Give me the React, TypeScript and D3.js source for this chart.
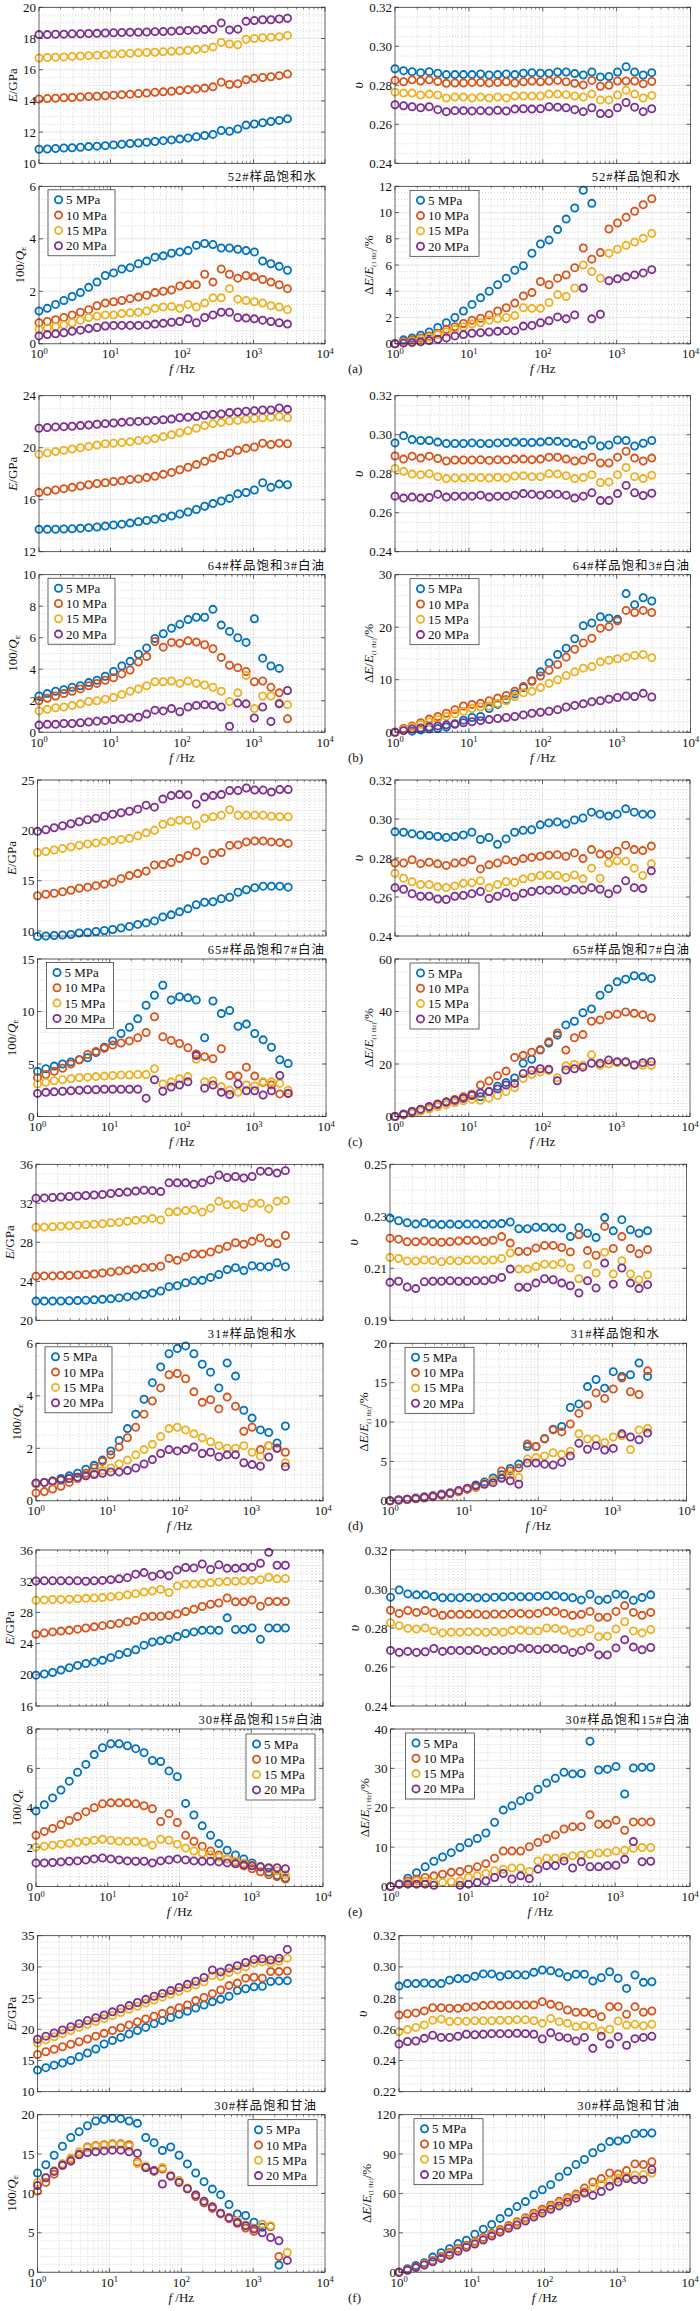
import React from 'react';
import * as d3 from 'd3';

type S = (number | null)[];
const N = null;

const FREQ = [1, 1.306, 1.705, 2.226, 2.906, 3.795, 4.955, 6.47, 8.448, 11.03, 14.4, 18.81, 24.56, 32.06, 41.87, 54.67, 71.38, 93.2, 121.7, 158.9, 207.5, 270.9, 353.7, 461.9, 603.1, 787.5, 1028, 1343, 1753, 2289, 2989];
const LEGEND = ['5 MPa', '10 MPa', '15 MPa', '20 MPa'];
const COLORS = ['#0072BD', '#D95319', '#EDB120', '#7E2F8E'];
const X_TICKS = [1, 10, 100, 1000, 10000];
const CAPTIONS = ['52#样品饱和水', '64#样品饱和3#白油', '65#样品饱和7#白油', '31#样品饱和水', '30#样品饱和15#白油', '30#样品饱和甘油'];
const TAGS = ['(a)', '(b)', '(c)', '(d)', '(e)', '(f)'];

// ---------- (a) ----------
const a_E5: S = [10.9, 10.92, 10.95, 10.98, 11.0, 11.03, 11.07, 11.1, 11.13, 11.18, 11.22, 11.27, 11.3, 11.35, 11.4, 11.45, 11.5, 11.55, 11.62, 11.7, 11.78, 11.85, 12.1, 12.05, 12.2, 12.45, 12.52, 12.6, 12.68, 12.75, 12.85];
const a_E10: S = [14.12, 14.15, 14.17, 14.2, 14.22, 14.25, 14.28, 14.3, 14.33, 14.37, 14.4, 14.43, 14.47, 14.5, 14.55, 14.58, 14.62, 14.67, 14.72, 14.77, 14.82, 14.9, 15.2, 15.05, 15.1, 15.35, 15.45, 15.5, 15.55, 15.62, 15.72];
const a_E15: S = [16.75, 16.78, 16.8, 16.82, 16.85, 16.88, 16.9, 16.93, 16.96, 17.0, 17.02, 17.05, 17.08, 17.1, 17.12, 17.15, 17.18, 17.2, 17.25, 17.3, 17.35, 17.45, 17.75, 17.65, 17.6, 17.95, 18.0, 18.05, 18.08, 18.12, 18.2];
const a_E20: S = [18.25, 18.25, 18.27, 18.28, 18.3, 18.3, 18.32, 18.33, 18.35, 18.37, 18.38, 18.4, 18.4, 18.42, 18.44, 18.45, 18.47, 18.5, 18.52, 18.55, 18.57, 18.6, 19.0, 18.55, 18.6, 19.1, 19.15, 19.2, 19.2, 19.25, 19.3];
const a_Q5: S = [1.25, 1.35, 1.5, 1.65, 1.8, 1.95, 2.15, 2.35, 2.6, 2.7, 2.85, 2.9, 3.05, 3.15, 3.3, 3.35, 3.45, 3.5, 3.55, 3.75, 3.82, 3.78, 3.65, 3.65, 3.6, 3.55, 3.5, 3.15, 3.05, 2.95, 2.8];
const a_Q10: S = [0.8, 0.85, 0.92, 1.0, 1.1, 1.2, 1.3, 1.45, 1.55, 1.6, 1.65, 1.72, 1.78, 1.85, 1.95, 2.0, 2.05, 2.2, 2.25, 2.25, 2.65, 2.35, 2.85, 2.65, 2.5, 2.6, 2.55, 2.45, 2.35, 2.25, 2.1];
const a_Q15: S = [0.55, 0.6, 0.65, 0.72, 0.8, 0.9, 1.0, 1.05, 1.1, 1.1, 1.15, 1.18, 1.2, 1.25, 1.35, 1.4, 1.42, 1.35, 1.5, 1.4, 1.55, 1.75, 1.75, 2.1, 1.7, 1.65, 1.6, 1.55, 1.45, 1.4, 1.3];
const a_Q20: S = [0.3, 0.35, 0.38, 0.42, 0.48, 0.52, 0.58, 0.62, 0.68, 0.7, 0.7, 0.7, 0.7, 0.72, 0.75, 0.78, 0.82, 0.85, 0.95, 0.8, 1.0, 1.1, 1.2, 1.2, 1.0, 0.98, 0.95, 0.9, 0.85, 0.8, 0.75];
const a_v5: S = [0.2885, 0.2875, 0.287, 0.2865, 0.287, 0.2862, 0.2855, 0.2855, 0.2855, 0.2855, 0.2858, 0.2853, 0.2855, 0.2858, 0.2855, 0.2862, 0.2865, 0.2862, 0.2862, 0.2868, 0.2868, 0.286, 0.2853, 0.2868, 0.2843, 0.2845, 0.2868, 0.2895, 0.2868, 0.2853, 0.2865];
const a_v10: S = [0.2825, 0.2818, 0.2828, 0.2822, 0.2828, 0.282, 0.281, 0.2812, 0.2812, 0.2815, 0.2815, 0.2812, 0.2815, 0.2818, 0.2812, 0.2818, 0.2822, 0.2818, 0.2822, 0.2825, 0.2818, 0.281, 0.2802, 0.2825, 0.2795, 0.28, 0.2822, 0.2822, 0.2822, 0.2808, 0.282];
const a_v15: S = [0.2765, 0.276, 0.276, 0.275, 0.2755, 0.275, 0.2735, 0.274, 0.274, 0.2735, 0.274, 0.2735, 0.274, 0.2735, 0.2745, 0.2745, 0.2745, 0.2745, 0.2755, 0.2755, 0.2752, 0.2745, 0.274, 0.2755, 0.2725, 0.2725, 0.275, 0.2775, 0.2755, 0.2735, 0.2748];
const a_v20: S = [0.27, 0.2695, 0.269, 0.2685, 0.269, 0.2675, 0.2665, 0.267, 0.267, 0.2668, 0.267, 0.2668, 0.2672, 0.2668, 0.2678, 0.268, 0.2678, 0.268, 0.269, 0.2688, 0.2685, 0.2675, 0.2665, 0.2685, 0.2655, 0.2655, 0.2685, 0.2712, 0.2688, 0.2665, 0.268];
const a_dE5: S = [0, 0.3, 0.45, 0.65, 0.9, 1.25, 1.6, 2.0, 2.5, 3.0, 3.5, 4.0, 4.5, 5.0, 5.6, 5.95, 6.9, 7.6, 7.9, 8.7, 9.5, 10.35, 11.7, 10.7, N, N, N, N, N, N, N];
const a_dE10: S = [0, 0.15, 0.3, 0.45, 0.6, 0.8, 1.1, 1.3, 1.55, 1.8, 1.95, 2.2, 2.5, 2.75, 3.1, 3.65, 3.9, 4.75, 4.5, 5.0, 5.25, 5.8, 7.3, 6.45, 6.95, 8.75, 9.2, 9.65, 10.1, 10.6, 11.05];
const a_dE15: S = [0, 0.1, 0.2, 0.35, 0.5, 0.7, 0.9, 1.1, 1.3, 1.5, 1.6, 1.8, 1.9, 2.0, 2.15, 2.75, 2.7, 2.7, 3.15, 3.75, 3.6, 4.25, 6.0, 5.5, 5.0, 6.9, 7.2, 7.5, 7.75, 8.05, 8.4];
const a_dE20: S = [0, 0.05, 0.1, 0.15, 0.25, 0.35, 0.45, 0.6, 0.7, 0.8, 0.85, 0.9, 0.95, 1.0, 1.0, 1.35, 1.4, 1.6, 1.75, 2.05, 1.9, 2.2, 4.25, 1.9, 2.25, 4.8, 4.95, 5.1, 5.25, 5.4, 5.65];

// ---------- (b) ----------
const b_E5: S = [13.72, 13.72, 13.73, 13.75, 13.76, 13.8, 13.85, 13.9, 13.97, 14.05, 14.12, 14.2, 14.3, 14.4, 14.5, 14.62, 14.75, 14.9, 15.05, 15.25, 15.5, 15.7, 15.9, 16.1, 16.45, 16.55, 16.75, 17.3, 16.95, 17.2, 17.15];
const b_E10: S = [16.55, 16.65, 16.75, 16.85, 16.95, 17.05, 17.15, 17.25, 17.3, 17.4, 17.45, 17.55, 17.6, 17.7, 17.8, 17.95, 18.1, 18.3, 18.5, 18.7, 18.95, 19.2, 19.4, 19.6, 19.8, 19.95, 20.05, 20.35, 20.25, 20.35, 20.3];
const b_E15: S = [19.5, 19.6, 19.7, 19.8, 19.9, 20.0, 20.1, 20.2, 20.3, 20.35, 20.4, 20.45, 20.55, 20.6, 20.7, 20.85, 21.0, 21.15, 21.3, 21.5, 21.7, 21.85, 21.95, 22.05, 22.1, 22.2, 22.25, 22.3, 22.35, 22.4, 22.3];
const b_E20: S = [21.5, 21.55, 21.6, 21.62, 21.65, 21.7, 21.75, 21.8, 21.85, 21.9, 21.95, 22.0, 22.02, 22.05, 22.1, 22.15, 22.2, 22.3, 22.35, 22.4, 22.5, 22.55, 22.6, 22.7, 22.75, 22.8, 22.85, 22.9, 22.9, 23.05, 22.95];
const b_Q5: S = [2.3, 2.45, 2.6, 2.7, 2.85, 2.95, 3.15, 3.3, 3.55, 3.85, 4.2, 4.5, 4.95, 5.35, 5.95, 6.25, 6.6, 6.85, 7.15, 7.3, 7.3, 7.8, 6.8, 6.4, 6.0, 5.7, 7.2, 4.7, 4.2, 4.05, N];
const b_Q10: S = [2.0, 2.15, 2.3, 2.45, 2.6, 2.75, 2.95, 3.1, 3.3, 3.45, 3.7, 3.95, 4.45, 4.8, 5.76, 5.4, 5.7, 5.65, 5.8, 5.72, 5.55, 5.3, 4.75, 4.25, 4.1, 3.85, 3.2, 3.25, 2.85, 2.5, 0.85];
const b_Q15: S = [1.35, 1.45, 1.55, 1.6, 1.7, 1.8, 1.95, 2.0, 2.1, 2.2, 2.4, 2.6, 2.75, 2.95, 3.2, 3.2, 3.25, 3.1, 3.25, 3.1, 3.0, 2.85, 2.6, 1.95, 2.5, 3.6, 1.5, 2.3, 2.3, 1.85, 1.75];
const b_Q20: S = [0.45, 0.5, 0.5, 0.55, 0.55, 0.6, 0.65, 0.7, 0.75, 0.8, 0.85, 0.9, 0.95, 1.15, 1.4, 1.35, 1.5, 1.3, 1.6, 1.7, 1.75, 1.7, 1.6, 0.38, 1.85, 1.8, 0.9, 1.6, 0.68, 1.8, 2.65];
const b_v5: S = [0.2958, 0.2995, 0.2975, 0.297, 0.297, 0.2962, 0.2955, 0.2955, 0.2955, 0.2958, 0.2955, 0.2955, 0.2958, 0.296, 0.2962, 0.296, 0.296, 0.2962, 0.2966, 0.2966, 0.296, 0.2955, 0.2944, 0.2973, 0.2942, 0.2947, 0.2973, 0.297, 0.2942, 0.2956, 0.297];
const b_v10: S = [0.2891, 0.2875, 0.289, 0.288, 0.289, 0.2878, 0.2865, 0.287, 0.287, 0.287, 0.2872, 0.2868, 0.2872, 0.287, 0.2875, 0.2875, 0.2872, 0.2875, 0.2885, 0.2885, 0.2875, 0.2865, 0.287, 0.2885, 0.2855, 0.2855, 0.2885, 0.2915, 0.288, 0.2865, 0.288];
const b_v15: S = [0.2827, 0.2812, 0.2798, 0.2795, 0.28, 0.2785, 0.2775, 0.2778, 0.2778, 0.278, 0.278, 0.2778, 0.2782, 0.2778, 0.2788, 0.279, 0.2785, 0.2785, 0.28, 0.2798, 0.279, 0.2775, 0.278, 0.2795, 0.2755, 0.2758, 0.2795, 0.2832, 0.2785, 0.2775, 0.2792];
const b_v20: S = [0.2685, 0.2675, 0.268, 0.2675, 0.2678, 0.2695, 0.268, 0.2685, 0.2685, 0.2685, 0.269, 0.268, 0.2685, 0.2685, 0.269, 0.2698, 0.2695, 0.269, 0.2695, 0.2695, 0.269, 0.2675, 0.2685, 0.2702, 0.2662, 0.2662, 0.2698, 0.274, 0.2702, 0.2688, 0.27];
const b_dE5: S = [0, 0.4, 0.2, 0.4, 0.6, 0.7, 1.0, 1.5, 2.3, 2.8, 3.0, 4.5, 5.3, 6.2, 7.3, 8.5, 9.8, 11.5, 13.2, 14.8, 16.0, 17.8, 20.3, 20.8, 22.0, 21.7, 21.5, 26.4, 24.3, 25.6, 25.0];
const b_dE10: S = [0, 0.7, 1.2, 1.8, 2.5, 3.0, 3.6, 4.3, 5.0, 5.3, 5.5, 6.0, 6.5, 7.0, 7.8, 8.7, 9.7, 10.7, 11.8, 12.9, 14.3, 15.8, 17.0, 17.9, 19.8, 20.1, 21.2, 23.2, 22.8, 23.2, 22.8];
const b_dE15: S = [0, 0.5, 1.0, 1.5, 2.0, 2.5, 3.0, 3.5, 4.0, 4.5, 4.8, 5.0, 5.5, 6.0, 6.8, 7.5, 7.8, 8.5, 9.3, 10.0, 10.8, 11.5, 12.2, 12.5, 13.4, 13.7, 14.0, 14.3, 14.6, 14.8, 14.2];
const b_dE20: S = [0, 0.3, 0.6, 0.8, 1.0, 1.2, 1.4, 1.6, 1.8, 2.0, 2.2, 2.4, 2.6, 2.8, 3.0, 3.3, 3.6, 3.8, 4.0, 4.3, 4.8, 5.1, 5.4, 5.8, 6.0, 6.3, 6.6, 6.9, 6.8, 7.4, 6.7];

// ---------- (c) ----------
const c_E5: S = [9.45, 9.5, 9.55, 9.6, 9.65, 9.8, 9.85, 9.95, 10.05, 10.15, 10.3, 10.45, 10.65, 10.8, 11.0, 11.4, 11.6, 11.9, 12.2, 12.6, 12.85, 12.9, 13.2, 13.35, 13.85, 14.1, 14.3, 14.45, 14.45, 14.45, 14.35];
const c_E10: S = [13.5, 13.65, 13.75, 13.9, 14.05, 14.25, 14.35, 14.5, 14.65, 14.85, 15.2, 15.5, 15.7, 15.95, 16.55, 16.6, 16.8, 17.2, 17.5, 17.85, 17.0, 17.7, 17.8, 18.5, 18.55, 18.85, 18.95, 18.95, 18.85, 18.8, 18.7];
const c_E15: S = [17.8, 17.9, 18.05, 18.2, 18.35, 18.5, 18.65, 18.75, 18.9, 19.0, 19.1, 19.2, 19.45, 19.75, 20.0, 20.6, 20.85, 21.0, 21.0, 20.5, 21.2, 21.35, 21.5, 22.05, 21.5, 21.5, 21.5, 21.5, 21.4, 21.35, 21.35];
const c_E20: S = [19.9, 20.05, 20.25, 20.45, 20.65, 20.85, 21.05, 21.2, 21.4, 21.6, 21.75, 21.9, 22.1, 22.5, 22.3, 23.1, 23.45, 23.55, 23.5, 22.6, 23.3, 23.45, 23.55, 23.95, 23.95, 24.2, 24.0, 24.0, 23.8, 24.05, 24.05];
const c_Q5: S = [4.3, 4.55, 4.8, 5.0, 5.2, 5.4, 5.6, 6.1, 6.6, 7.2, 7.9, 8.5, 9.3, 10.6, 11.55, 12.5, 11.1, 11.4, 11.3, 11.1, 7.5, 11.0, 9.8, 10.1, 8.6, 8.8, 7.9, 7.3, 6.6, 5.4, 5.05];
const c_Q10: S = [3.7, 4.0, 4.3, 4.6, 5.0, 5.4, 5.9, 6.2, 6.5, 6.8, 7.0, 7.2, 7.5, 8.0, 9.5, 7.6, 7.25, 6.95, 6.55, 5.95, 5.7, 5.5, 6.45, 3.9, 3.85, 4.7, 3.85, 3.25, 3.0, 2.15, 2.2];
const c_Q15: S = [3.1, 3.25, 3.4, 3.5, 3.6, 3.7, 3.75, 3.8, 3.85, 3.9, 3.95, 3.95, 4.0, 4.0, 4.55, 3.1, 3.3, 3.6, 3.8, 5.45, 3.3, 3.4, 2.85, 2.5, 2.3, 3.0, 2.9, 3.3, 3.3, 3.15, 2.5];
const c_Q20: S = [2.2, 2.3, 2.35, 2.4, 2.45, 2.5, 2.55, 2.55, 2.6, 2.6, 2.6, 2.6, 2.6, 1.75, 3.5, 2.4, 2.8, 3.0, 3.3, 5.8, 2.7, 3.0, 2.3, 2.1, 3.1, 2.45, 2.45, 2.05, 2.45, 3.9, 2.2];
const c_v5: S = [0.2934, 0.2932, 0.2925, 0.2918, 0.2915, 0.291, 0.2905, 0.291, 0.2918, 0.2932, 0.2895, 0.2905, 0.287, 0.2898, 0.2932, 0.2942, 0.2945, 0.297, 0.298, 0.2985, 0.2975, 0.2995, 0.3005, 0.3035, 0.3025, 0.3015, 0.3025, 0.3052, 0.3035, 0.3025, 0.3025];
const c_v10: S = [0.2774, 0.2774, 0.2791, 0.2771, 0.2778, 0.277, 0.2762, 0.2774, 0.2779, 0.2791, 0.2744, 0.2765, 0.2774, 0.2791, 0.2783, 0.2797, 0.2803, 0.2809, 0.2814, 0.2817, 0.2809, 0.2826, 0.2797, 0.2843, 0.282, 0.2817, 0.2835, 0.2866, 0.2843, 0.2838, 0.2861];
const c_v15: S = [0.2722, 0.2696, 0.2678, 0.2664, 0.2664, 0.2652, 0.2649, 0.2657, 0.267, 0.2673, 0.2683, 0.2647, 0.2664, 0.2678, 0.2675, 0.2693, 0.2701, 0.271, 0.2713, 0.271, 0.27, 0.2713, 0.2693, 0.2748, 0.2696, 0.2774, 0.2786, 0.2783, 0.2748, 0.271, 0.277];
const c_v20: S = [0.2648, 0.264, 0.2617, 0.2604, 0.2604, 0.259, 0.2587, 0.2604, 0.2608, 0.2617, 0.2628, 0.2592, 0.2604, 0.2622, 0.2601, 0.2619, 0.2628, 0.2635, 0.2635, 0.264, 0.2631, 0.264, 0.2636, 0.2648, 0.264, 0.2617, 0.264, 0.2683, 0.2648, 0.2643, 0.2734];
const c_dE5: S = [0, 1, 2, 2.5, 3.5, 4.5, 5.5, 6.3, 7.0, 8.3, 7.5, 9.5, 11.5, 13.0, 14.7, 20.3, 21.8, 25.3, 28.0, 31.0, 34.9, 36.3, 39.5, 41.0, 46.2, 48.7, 51.3, 52.3, 53.6, 53.2, 52.6];
const c_dE10: S = [0, 0.8, 1.8, 2.5, 3.5, 4.5, 5.5, 6.5, 7.5, 8.5, 12.0, 13.5, 15.5, 17.3, 22.5, 23.3, 24.5, 25.5, 28.5, 31.8, 25.3, 30.0, 31.2, 36.3, 36.8, 38.5, 39.0, 39.8, 39.3, 38.8, 37.6];
const c_dE15: S = [0, 0.5, 1.2, 2.0, 2.8, 3.7, 4.5, 5.3, 6.0, 6.5, 6.2, 7.0, 8.0, 9.5, 11.0, 14.5, 16.0, 17.0, 17.5, 14.8, 19.3, 19.8, 19.5, 23.5, 19.5, 20.0, 20.5, 20.5, 19.5, 19.5, 19.5];
const c_dE20: S = [0, 0.8, 1.8, 2.8, 3.8, 4.8, 5.5, 6.2, 7.0, 8.0, 9.0, 9.5, 10.5, 12.0, 12.6, 16.4, 17.6, 18.2, 18.0, 13.6, 17.7, 18.2, 18.8, 20.3, 20.3, 21.5, 20.9, 20.9, 19.6, 20.5, 20.9];

// ---------- (d) ----------
const d_E5: S = [21.97, 21.97, 21.97, 21.98, 22.0, 22.02, 22.05, 22.1, 22.15, 22.2, 22.3, 22.4, 22.5, 22.65, 22.8, 23.0, 23.45, 23.55, 23.85, 24.05, 24.1, 24.4, 24.7, 25.2, 25.4, 25.1, 25.6, 25.5, 25.5, 25.9, 25.5];
const d_E10: S = [24.53, 24.55, 24.55, 24.6, 24.6, 24.65, 24.7, 24.75, 24.85, 24.95, 25.05, 25.15, 25.25, 25.4, 25.45, 25.55, 26.35, 26.15, 26.5, 26.8, 26.8, 27.0, 27.3, 27.6, 27.95, 27.8, 28.1, 28.45, 27.95, 27.85, 28.7];
const d_E15: S = [29.54, 29.55, 29.6, 29.65, 29.7, 29.75, 29.8, 29.85, 29.9, 30.0, 30.05, 30.15, 30.25, 30.35, 30.45, 30.3, 31.1, 31.15, 31.25, 31.35, 31.1, 31.5, 32.2, 31.85, 31.85, 31.6, 32.0, 32.0, 31.45, 32.2, 32.3];
const d_E20: S = [32.53, 32.55, 32.6, 32.65, 32.7, 32.75, 32.8, 32.85, 32.9, 33.0, 33.1, 33.15, 33.25, 33.35, 33.3, 33.2, 34.1, 34.1, 34.1, 33.95, 34.1, 34.4, 34.9, 34.65, 34.75, 34.6, 34.75, 35.3, 35.25, 35.1, 35.35];
const d_Q5: S = [0.65, 0.7, 0.75, 0.85, 0.95, 1.05, 1.2, 1.35, 1.55, 1.9, 2.3, 2.75, 3.3, 3.87, 4.5, 5.1, 5.6, 5.8, 5.9, 5.6, 5.2, 4.9, 4.3, 5.25, 4.75, 3.45, 3.15, 2.7, 2.6, 2.2, 2.85];
const d_Q10: S = [0.3, 0.35, 0.45, 0.55, 0.7, 0.85, 1.05, 1.25, 1.5, 1.75, 2.05, 2.4, 2.8, 3.3, 3.8, 4.3, 4.8, 4.85, 4.65, 4.15, 3.75, 3.85, 3.5, 3.95, 3.6, 2.65, 2.8, 1.95, 2.1, 2.0, 1.85];
const d_Q15: S = [0.65, 0.7, 0.72, 0.78, 0.85, 0.9, 0.95, 1.05, 1.15, 1.25, 1.4, 1.55, 1.75, 1.95, 2.15, 2.45, 2.75, 2.8, 2.7, 2.55, 2.4, 2.25, 2.1, 2.0, 2.0, 2.1, 1.85, 1.7, 2.1, 2.0, 1.45];
const d_Q20: S = [0.68, 0.7, 0.75, 0.8, 0.85, 0.9, 0.95, 1.0, 1.05, 1.1, 1.1, 1.15, 1.25, 1.4, 1.57, 1.8, 1.95, 1.9, 1.95, 2.05, 1.8, 1.85, 1.68, 1.75, 1.75, 1.45, 1.38, 1.32, 1.67, 2.0, 1.3];
const d_v5: S = [0.2293, 0.2283, 0.2275, 0.227, 0.2275, 0.227, 0.2268, 0.227, 0.2268, 0.227, 0.227, 0.2268, 0.227, 0.2272, 0.2278, 0.2252, 0.2252, 0.2258, 0.2258, 0.2255, 0.2255, 0.2222, 0.2257, 0.2235, 0.2218, 0.2295, 0.2244, 0.2287, 0.2248, 0.2235, 0.2244];
const d_v10: S = [0.2216, 0.2212, 0.2202, 0.2202, 0.2205, 0.2202, 0.22, 0.2202, 0.2205, 0.2208, 0.2208, 0.2202, 0.2208, 0.2222, 0.2197, 0.2165, 0.2165, 0.2178, 0.2188, 0.2188, 0.218, 0.2163, 0.2229, 0.2168, 0.215, 0.2261, 0.2176, 0.2222, 0.2176, 0.2156, 0.2172];
const d_v15: S = [0.2142, 0.2138, 0.2128, 0.2128, 0.2132, 0.213, 0.2125, 0.213, 0.2128, 0.2132, 0.2132, 0.213, 0.2132, 0.2138, 0.2159, 0.2097, 0.2097, 0.2107, 0.2116, 0.2114, 0.212, 0.2101, 0.206, 0.2114, 0.2082, 0.2162, 0.2078, 0.2129, 0.2078, 0.2056, 0.2075];
const d_v20: S = [0.2046, 0.205, 0.2028, 0.2022, 0.2048, 0.205, 0.205, 0.2052, 0.205, 0.205, 0.2052, 0.2052, 0.2058, 0.2065, 0.2097, 0.2027, 0.2027, 0.2043, 0.206, 0.2056, 0.2043, 0.2033, 0.2005, 0.2052, 0.2024, 0.212, 0.2039, 0.2101, 0.2043, 0.2022, 0.2037];
const d_dE5: S = [0, 0.1, 0.2, 0.35, 0.5, 0.65, 0.85, 1.0, 1.25, 1.55, 2.0, 2.4, 2.9, 3.3, 4.1, 4.66, 6.9, 6.9, 7.9, 9.1, 9.45, 11.85, 12.3, 14.5, 15.4, 14.3, 16.4, 15.8, 16.0, 17.5, 15.8];
const d_dE10: S = [0, 0.1, 0.15, 0.25, 0.35, 0.5, 0.7, 0.9, 1.15, 1.45, 1.7, 2.15, 2.6, 3.8, 3.8, 4.15, 7.2, 6.9, 7.85, 9.0, 8.75, 9.75, 11.1, 12.15, 13.7, 13.0, 14.2, 15.6, 13.85, 13.5, 16.5];
const d_dE15: S = [0, 0.1, 0.2, 0.3, 0.45, 0.6, 0.8, 1.0, 1.25, 1.55, 1.8, 2.2, 2.6, 3.0, 3.3, 2.95, 5.3, 5.5, 5.7, 6.1, 5.9, 6.3, 8.5, 7.85, 7.85, 7.4, 8.1, 8.25, 6.5, 9.0, 9.2];
const d_dE20: S = [0, 0.1, 0.2, 0.3, 0.45, 0.6, 0.8, 1.0, 1.3, 1.6, 1.9, 2.1, 2.3, 2.85, 2.55, 2.1, 4.8, 4.8, 4.65, 4.55, 4.9, 5.7, 7.3, 6.55, 7.0, 6.45, 6.65, 8.5, 8.1, 7.75, 8.6];

// ---------- (e) ----------
const e_E5: S = [19.95, 20.1, 20.3, 20.6, 20.9, 21.2, 21.45, 21.65, 21.85, 22.2, 22.6, 22.85, 23.2, 23.8, 24.2, 24.35, 24.55, 24.9, 25.3, 25.5, 25.7, 25.75, 25.7, 27.3, 25.8, 25.8, 26.0, 24.55, 26.0, 26.0, 26.0];
const e_E10: S = [25.2, 25.35, 25.5, 25.6, 25.7, 25.85, 26.0, 26.15, 26.3, 26.45, 26.6, 26.8, 27.0, 27.45, 27.5, 27.5, 27.6, 27.8, 28.1, 28.4, 28.75, 29.05, 29.2, 29.85, 29.35, 29.35, 29.6, 28.8, 29.4, 29.4, 29.4];
const e_E15: S = [29.55, 29.6, 29.65, 29.65, 29.7, 29.75, 29.8, 29.85, 29.9, 30.0, 30.1, 30.25, 30.4, 30.6, 30.75, 30.95, 30.55, 31.4, 31.6, 31.65, 31.7, 31.8, 31.9, 31.95, 32.0, 32.05, 32.1, 32.2, 32.5, 32.3, 32.35];
const e_E20: S = [32.02, 32.05, 32.05, 32.05, 32.05, 32.05, 32.0, 32.05, 32.1, 32.2, 32.3, 32.45, 32.9, 33.1, 32.65, 32.9, 32.7, 33.45, 33.75, 33.7, 34.2, 33.5, 34.1, 33.65, 33.65, 33.75, 33.8, 34.3, 35.7, 34.05, 34.05];
const e_Q5: S = [3.83, 4.15, 4.5, 4.9, 5.35, 5.8, 6.2, 6.7, 7.05, 7.25, 7.25, 7.15, 7.0, 6.8, 6.4, 6.35, 5.87, 5.58, 4.22, 3.63, 3.08, 2.6, 2.18, 1.84, 1.6, 1.4, 1.2, 1.0, 0.73, 0.56, 0.43];
const e_Q10: S = [2.6, 2.8, 2.95, 3.15, 3.35, 3.55, 3.8, 4.0, 4.2, 4.25, 4.25, 4.25, 4.2, 4.1, 3.95, 3.3, 3.7, 3.25, 2.6, 2.3, 2.05, 1.8, 1.6, 1.4, 1.25, 1.05, 0.9, 0.75, 0.6, 0.5, 0.38];
const e_Q15: S = [2.0, 2.05, 2.1, 2.15, 2.2, 2.25, 2.3, 2.35, 2.4, 2.35, 2.3, 2.3, 2.3, 2.25, 2.1, 2.4, 2.35, 2.15, 1.95, 1.8, 1.7, 1.6, 1.5, 1.4, 1.3, 1.2, 1.1, 1.0, 0.9, 0.8, 0.6];
const e_Q20: S = [1.2, 1.2, 1.22, 1.25, 1.28, 1.3, 1.35, 1.4, 1.45, 1.4, 1.35, 1.3, 1.28, 1.28, 1.2, 1.3, 1.35, 1.4, 1.35, 1.3, 1.28, 1.28, 1.25, 1.2, 1.15, 1.1, 1.05, 1.0, 0.95, 0.95, 0.9];
const e_v5: S = b_v5;
const e_v10: S = b_v10;
const e_v15: S = b_v15;
const e_v20: S = b_v20;
const e_dE5: S = [0, 0.6, 2.1, 3.5, 5.0, 6.4, 7.5, 8.6, 9.9, 11.1, 12.2, 13.6, 16.3, 19.4, 20.5, 21.8, 22.8, 24.7, 26.3, 27.5, 29.0, 28.6, 28.7, 36.9, 29.6, 29.8, 30.5, 23.5, 30.1, 30.3, 30.3];
const e_dE10: S = [0, 0.6, 1.4, 1.9, 2.3, 2.7, 3.1, 3.6, 3.8, 4.4, 5.0, 5.8, 7.2, 9.0, 9.0, 9.0, 10.1, 11.2, 12.2, 13.1, 14.6, 15.2, 15.2, 18.2, 15.8, 15.8, 16.8, 14.3, 16.4, 16.4, 16.4];
const e_dE15: S = [0, 0.6, 1.0, 1.4, 1.3, 1.0, 1.0, 1.2, 1.4, 2.3, 2.7, 3.3, 4.0, 4.4, 4.7, 4.7, 3.8, 6.5, 7.2, 7.2, 7.4, 7.8, 8.0, 8.2, 8.5, 8.6, 9.0, 9.2, 9.7, 9.9, 9.9];
const e_dE20: S = [0, 0.6, 0.6, 0.6, 0.6, 0.3, N, N, 0.3, 0.6, 1.0, 1.4, 2.3, 3.3, 1.9, 2.7, 2.0, 4.4, 5.3, 5.3, 6.5, 4.7, 6.3, 5.0, 5.0, 5.3, 5.4, 6.9, 11.4, 6.3, 6.4];

// ---------- (f) ----------
const f_E5: S = [13.46, 13.85, 14.25, 14.6, 15.0, 15.6, 16.2, 16.85, 17.65, 18.2, 18.7, 19.25, 19.8, 20.3, 20.9, 21.4, 21.9, 22.4, 22.9, 23.4, 23.9, 24.4, 24.8, 25.3, 26.2, 26.5, 26.8, 26.9, 27.65, 27.75, 27.8];
const f_E10: S = [15.96, 16.4, 16.8, 17.2, 17.6, 18.0, 18.45, 18.9, 19.35, 19.8, 20.25, 20.7, 21.2, 21.65, 22.1, 22.55, 23.0, 23.45, 23.9, 24.6, 25.1, 25.7, 26.3, 27.0, 27.4, 28.2, 28.35, 28.2, 29.25, 29.25, 29.35];
const f_E15: S = [17.8, 18.3, 18.8, 19.3, 19.8, 20.3, 20.8, 21.25, 21.7, 22.2, 22.7, 23.2, 23.7, 24.2, 24.7, 25.15, 25.6, 26.1, 26.6, 27.1, 27.6, 28.6, 28.5, 29.1, 29.5, 30.0, 30.6, 30.8, 30.6, 30.9, 31.4];
const f_E20: S = [18.4, 18.9, 19.4, 19.9, 20.4, 20.9, 21.4, 21.85, 22.3, 22.8, 23.3, 23.8, 24.3, 24.8, 25.3, 25.75, 26.2, 26.7, 27.2, 27.7, 28.3, 29.5, 29.2, 29.8, 30.2, 30.7, 31.2, 31.3, 31.1, 31.4, 32.8];
const f_Q5: S = [12.6, 13.65, 14.85, 16.0, 17.1, 17.85, 18.6, 19.2, 19.4, 19.55, 19.5, 19.2, 18.9, 17.1, 16.45, 15.45, 15.9, 14.85, 13.75, 12.6, 11.5, 10.55, 9.85, 8.6, 7.4, 7.2, 6.35, 5.7, 5.8, 0.9, N];
const f_Q10: S = [10.3, 11.4, 12.45, 13.55, 14.3, 15.0, 15.9, 16.1, 16.2, 16.3, 16.3, 16.2, 14.0, 13.3, 12.8, 13.1, 12.2, 11.6, 10.6, 9.6, 8.8, 8.1, 7.4, 6.8, 6.2, 5.6, 5.2, 6.1, 5.8, 2.0, N];
const f_Q15: S = [11.4, 12.0, 12.9, 13.8, 14.5, 15.3, 15.8, 16.0, 16.1, 16.2, 16.2, 16.0, 13.8, 13.5, 12.9, 13.3, 12.3, 11.6, 10.7, 9.8, 9.0, 8.3, 7.5, 6.9, 6.5, 6.0, 5.6, 6.1, 5.9, N, 2.5];
const f_Q20: S = [11.0, 12.0, 12.8, 13.6, 14.1, 14.9, 15.2, 15.3, 15.4, 15.5, 15.5, 15.3, 15.1, 13.3, 12.9, 11.2, 12.2, 11.4, 10.6, 9.8, 9.0, 8.3, 7.5, 6.9, 6.3, 5.9, 5.5, 5.0, 4.4, 4.0, 1.5];
const f_v5: S = [0.2877, 0.2893, 0.2893, 0.2897, 0.2893, 0.2893, 0.2915, 0.2925, 0.2925, 0.294, 0.2955, 0.2955, 0.294, 0.295, 0.295, 0.2948, 0.2965, 0.298, 0.2975, 0.2962, 0.2937, 0.2953, 0.2953, 0.2909, 0.2931, 0.2969, 0.2927, 0.2862, 0.2948, 0.2901, 0.2905];
const f_v10: S = [0.2691, 0.27, 0.2705, 0.2718, 0.2738, 0.2738, 0.2735, 0.2735, 0.2742, 0.2745, 0.2752, 0.2756, 0.2752, 0.2756, 0.2756, 0.2756, 0.2756, 0.2777, 0.276, 0.2749, 0.2724, 0.2709, 0.2709, 0.2702, 0.2681, 0.2745, 0.2745, 0.2696, 0.2745, 0.2709, 0.2717];
const f_v15: S = [0.2585, 0.2598, 0.2612, 0.2628, 0.2658, 0.2665, 0.265, 0.2652, 0.2652, 0.2655, 0.2655, 0.2655, 0.2658, 0.2658, 0.2662, 0.2662, 0.2655, 0.2638, 0.267, 0.2649, 0.2638, 0.2617, 0.2623, 0.2617, 0.2589, 0.26, 0.2653, 0.2627, 0.2632, 0.2623, 0.2632];
const f_v20: S = [0.2505, 0.2522, 0.2525, 0.2542, 0.2562, 0.2548, 0.2548, 0.2555, 0.2568, 0.2565, 0.2568, 0.2572, 0.2572, 0.2572, 0.2575, 0.2572, 0.2568, 0.2538, 0.2578, 0.2552, 0.2545, 0.2525, 0.2548, 0.2478, 0.2555, 0.2505, 0.2553, 0.2498, 0.254, 0.2548, 0.2555];
const f_dE5: S = [0, 2.6, 5.1, 7.2, 11.5, 14.9, 17.9, 21.8, 24.4, 29, 32.8, 36.4, 41, 45.6, 50, 53.8, 59, 62.8, 66.7, 72.6, 76.9, 82, 85.9, 91, 94.9, 99.5, 100, 101.3, 105.5, 105.9, 106];
const f_dE10: S = [0, 2, 4, 6.5, 9, 12, 15, 18, 20.5, 23.5, 26.5, 29.5, 32.5, 35.5, 38.5, 41.5, 45, 48, 51, 54, 57, 59.5, 64.1, 68.7, 71.3, 75.6, 74.9, 77.4, 82.5, 82, 84.1];
const f_dE15: S = [0, 1.5, 3.5, 6, 8.5, 11, 14, 17, 19.5, 22.5, 25.5, 28.5, 31.5, 34.5, 37.5, 40.5, 43.5, 46.5, 49.5, 52.5, 55.5, 58.5, 61.5, 64.5, 67, 69.5, 71.5, 73, 74, 74.5, 75.5];
const f_dE20: S = [0, 1.5, 3.5, 5.5, 8, 10.5, 13, 16, 19, 21.5, 24.5, 27.5, 30.5, 33.5, 36, 39, 42, 45, 48, 50.5, 53.5, 56.4, 60.3, 58.5, 61.5, 65.4, 68.7, 71.3, 70.5, 70.5, 78.2];

// ---------- axis ticks ----------
const E_TICKS = [[10, 12, 14, 16, 18, 20], [12, 16, 20, 24], [10, 15, 20, 25], [20, 24, 28, 32, 36], [16, 20, 24, 28, 32, 36], [10, 15, 20, 25, 30, 35]];
const E_DOMAINS = [[10, 20], [12, 24], [9.5, 25], [20, 36], [16, 36], [10, 35]];
const Q_TICKS = [[0, 2, 4, 6], [0, 2, 4, 6, 8, 10], [0, 5, 10, 15], [0, 2, 4, 6], [0, 2, 4, 6, 8], [0, 5, 10, 15, 20]];
const V_TICKS = [[0.24, 0.26, 0.28, 0.3, 0.32], [0.24, 0.26, 0.28, 0.3, 0.32], [0.24, 0.26, 0.28, 0.3, 0.32], [0.19, 0.21, 0.23, 0.25], [0.24, 0.26, 0.28, 0.3, 0.32], [0.22, 0.24, 0.26, 0.28, 0.3, 0.32]];
const DE_TICKS = [[0, 2, 4, 6, 8, 10, 12], [0, 10, 20, 30], [0, 20, 40, 60], [0, 5, 10, 15, 20], [0, 10, 20, 30, 40], [0, 30, 60, 90, 120]];

const E_SERIES = [[a_E5, a_E10, a_E15, a_E20], [b_E5, b_E10, b_E15, b_E20], [c_E5, c_E10, c_E15, c_E20], [d_E5, d_E10, d_E15, d_E20], [e_E5, e_E10, e_E15, e_E20], [f_E5, f_E10, f_E15, f_E20]];
const Q_SERIES = [[a_Q5, a_Q10, a_Q15, a_Q20], [b_Q5, b_Q10, b_Q15, b_Q20], [c_Q5, c_Q10, c_Q15, c_Q20], [d_Q5, d_Q10, d_Q15, d_Q20], [e_Q5, e_Q10, e_Q15, e_Q20], [f_Q5, f_Q10, f_Q15, f_Q20]];
const V_SERIES = [[a_v5, a_v10, a_v15, a_v20], [b_v5, b_v10, b_v15, b_v20], [c_v5, c_v10, c_v15, c_v20], [d_v5, d_v10, d_v15, d_v20], [e_v5, e_v10, e_v15, e_v20], [f_v5, f_v10, f_v15, f_v20]];
const DE_SERIES = [[a_dE5, a_dE10, a_dE15, a_dE20], [b_dE5, b_dE10, b_dE15, b_dE20], [c_dE5, c_dE10, c_dE15, c_dE20], [d_dE5, d_dE10, d_dE15, d_dE20], [e_dE5, e_dE10, e_dE15, e_dE20], [f_dE5, f_dE10, f_dE15, f_dE20]];

// ---------- layout ----------
const TOPS = [7.3, 395.7, 780, 1164.3, 1550, 1935.7];
const LX0 = [39, 39, 37.5, 36, 36, 37.5];
const LX1 = [325, 325, 326, 323, 323, 325];
const RX0 = [395, 395, 395, 390, 390.5, 399];
const RX1 = [690.5, 690.5, 690, 686.5, 690, 690];
const CAP_LX = [317, 325, 325, 297, 323, 317];
const CAP_RX = [681, 690, 690, 660, 690, 680];
const Q_LEGEND_RIGHT = [false, false, false, false, true, true];

const FONT = '"Liberation Serif", "Times New Roman", serif';
const AX = '#262626';
const FS = 13;

type Kind = 'E' | 'Q' | 'v' | 'dE';

function YLabel({ kind, x, y }: { kind: Kind; x: number; y: number }) {
  const t = `translate(${x},${y}) rotate(-90)`;
  if (kind === 'E') return <text transform={t} textAnchor="middle" fontSize={FS}><tspan fontStyle="italic">E</tspan>/GPa</text>;
  if (kind === 'Q') return <text transform={t} textAnchor="middle" fontSize={FS}>100/<tspan fontStyle="italic">Q</tspan><tspan fontSize={7} dy={2.5}>E</tspan></text>;
  if (kind === 'v') return <text transform={t} textAnchor="middle" fontSize={FS + 1}><tspan fontStyle="italic">υ</tspan></text>;
  return <text transform={t} textAnchor="middle" fontSize={FS}>Δ<tspan fontStyle="italic">E</tspan>/<tspan fontStyle="italic">E</tspan><tspan fontSize={6.5} dy={2.5}>(1 Hz)</tspan><tspan dy={-2.5}>/%</tspan></text>;
}

function Panel(props: {
  x0: number; x1: number; y0: number; y1: number;
  domain: number[]; ticks: number[]; series: S[]; kind: Kind;
  showX: boolean; legend: null | { x: number; y: number; w: number };
  fmt: (v: number) => string;
}) {
  const { x0, x1, y0, y1, domain, ticks, series, kind, showX, legend, fmt } = props;
  const x = d3.scaleLog().domain([1, 1e4]).range([x0, x1]);
  const y = d3.scaleLinear().domain(domain).range([y1, y0]);
  const minorX: number[] = [];
  for (let d = 0; d < 4; d++) for (let k = 2; k <= 9; k++) minorX.push(k * Math.pow(10, d));
  const step = ticks[1] - ticks[0];
  const lead = Math.round(step / Math.pow(10, Math.floor(Math.log10(step))));
  const div = lead === 2 ? 4 : lead === 3 ? 3 : lead === 4 ? 4 : 5;
  const minorY: number[] = [];
  const sub = step / div;
  for (let v = ticks[0] - step; v <= domain[1] + 1e-9; v += sub) {
    const vv = +v.toFixed(6);
    if (vv < domain[0] - 1e-9 || vv > domain[1] + 1e-9) continue;
    if (ticks.some(t => Math.abs(t - vv) < sub / 10)) continue;
    minorY.push(vv);
  }
  const labels = ticks.map(fmt);
  const maxW = d3.max(labels, l => l.length * 6.5 - (l.includes('.') ? 3.25 : 0)) as number;
  const labelX = x0 - 4 - maxW - 5;
  return (
    <g>
      {minorX.map(v => <line key={'mx' + v} x1={x(v)} x2={x(v)} y1={y0} y2={y1} stroke="#b8b8b8" strokeWidth={0.6} strokeDasharray="1,2" />)}
      {minorY.map(v => <line key={'my' + v} x1={x0} x2={x1} y1={y(v)} y2={y(v)} stroke="#b8b8b8" strokeWidth={0.6} strokeDasharray="1,2" />)}
      {X_TICKS.slice(1, -1).map(v => <line key={'gx' + v} x1={x(v)} x2={x(v)} y1={y0} y2={y1} stroke="#dcdcdc" strokeWidth={0.7} />)}
      {ticks.map(v => <line key={'gy' + v} x1={x0} x2={x1} y1={y(v)} y2={y(v)} stroke="#dcdcdc" strokeWidth={0.7} />)}
      {series.map((arr, si) => (
        <g key={si} fill="none" stroke={COLORS[si]} strokeWidth={1.8}>
          {arr.map((v, i) => (v == null || i >= FREQ.length) ? null : <circle key={i} cx={x(FREQ[i])} cy={y(v)} r={3.6} />)}
        </g>
      ))}
      <rect x={x0} y={y0} width={x1 - x0} height={y1 - y0} fill="none" stroke={AX} strokeWidth={0.7} />
      {X_TICKS.map(v => <g key={'tx' + v}>
        <line x1={x(v)} x2={x(v)} y1={y1} y2={y1 - 4} stroke={AX} strokeWidth={0.7} />
        <line x1={x(v)} x2={x(v)} y1={y0} y2={y0 + 4} stroke={AX} strokeWidth={0.7} />
      </g>)}
      {minorX.map(v => <g key={'tmx' + v}>
        <line x1={x(v)} x2={x(v)} y1={y1} y2={y1 - 2} stroke={AX} strokeWidth={0.6} />
        <line x1={x(v)} x2={x(v)} y1={y0} y2={y0 + 2} stroke={AX} strokeWidth={0.6} />
      </g>)}
      {ticks.map(v => <g key={'ty' + v}>
        <line x1={x0} x2={x0 + 4} y1={y(v)} y2={y(v)} stroke={AX} strokeWidth={0.7} />
        <line x1={x1} x2={x1 - 4} y1={y(v)} y2={y(v)} stroke={AX} strokeWidth={0.7} />
      </g>)}
      {ticks.map((v, i) => <text key={'ly' + v} x={x0 - 3} y={y(v)} dy="0.35em" textAnchor="end" fontSize={FS}>{labels[i]}</text>)}
      {showX && X_TICKS.map((v, i) => (
        <text key={'lx' + v} x={x(v)} y={y1 + 14.5} textAnchor="middle" fontSize={FS}>10<tspan fontSize={8.5} dy={-4.5}>{i}</tspan></text>
      ))}
      {showX && <text x={(x0 + x1) / 2} y={y1 + 29.5} textAnchor="middle" fontSize={FS}><tspan fontStyle="italic">f</tspan> /Hz</text>}
      <YLabel kind={kind} x={labelX} y={(y0 + y1) / 2} />
      {legend && (
        <g>
          <rect x={legend.x} y={legend.y} width={legend.w} height={66} fill="#fff" stroke={AX} strokeWidth={0.7} />
          {LEGEND.map((l, i) => (
            <g key={l}>
              <circle cx={legend.x + 10.5} cy={legend.y + 10 + i * 15.3} r={3.6} fill="none" stroke={COLORS[i]} strokeWidth={1.8} />
              <text x={legend.x + 18} y={legend.y + 10 + i * 15.3} dy="0.35em" fontSize={FS}>{l}</text>
            </g>
          ))}
        </g>
      )}
    </g>
  );
}

const fmtInt = (v: number) => String(v);
const fmt2 = (v: number) => v.toFixed(2);

export default function App() {
  return (
    <svg width={700} height={2311} style={{ position: 'absolute', left: 0, top: 0, background: '#fff' }} fontFamily={FONT} fill="#111">
      <rect x={0} y={0} width={700} height={2311} fill="#fff" />
      {TOPS.map((top, g) => {
        const eY0 = top, eY1 = top + 156, qY0 = top + 179, qY1 = top + 336.5;
        const lLeg = Q_LEGEND_RIGHT[g] ? { x: LX1[g] - 8 - 69, y: qY0 + 5, w: 69 } : { x: LX0[g] + 9, y: qY0 + 3.5, w: 67 };
        return (
          <g key={g}>
            <Panel x0={LX0[g]} x1={LX1[g]} y0={eY0} y1={eY1} domain={E_DOMAINS[g]} ticks={E_TICKS[g]} series={E_SERIES[g]} kind="E" showX={false} legend={null} fmt={fmtInt} />
            <Panel x0={LX0[g]} x1={LX1[g]} y0={qY0} y1={qY1} domain={[Q_TICKS[g][0], Q_TICKS[g][Q_TICKS[g].length - 1]]} ticks={Q_TICKS[g]} series={Q_SERIES[g]} kind="Q" showX={true} legend={lLeg} fmt={fmtInt} />
            <Panel x0={RX0[g]} x1={RX1[g]} y0={eY0} y1={eY1} domain={[V_TICKS[g][0], V_TICKS[g][V_TICKS[g].length - 1]]} ticks={V_TICKS[g]} series={V_SERIES[g]} kind="v" showX={false} legend={null} fmt={fmt2} />
            <Panel x0={RX0[g]} x1={RX1[g]} y0={qY0} y1={qY1} domain={[DE_TICKS[g][0], DE_TICKS[g][DE_TICKS[g].length - 1]]} ticks={DE_TICKS[g]} series={DE_SERIES[g]} kind="dE" showX={true} legend={{ x: RX0[g] + 15, y: qY0 + 4, w: 69 }} fmt={fmtInt} />
            <text x={CAP_LX[g]} y={eY1 + 18} textAnchor="end" fontSize={12.5} letterSpacing={1} fontFamily={'"Liberation Serif", "Noto Sans CJK SC", serif'}>{CAPTIONS[g]}</text>
            <text x={CAP_RX[g]} y={eY1 + 18} textAnchor="end" fontSize={12.5} letterSpacing={1} fontFamily={'"Liberation Serif", "Noto Sans CJK SC", serif'}>{CAPTIONS[g]}</text>
            <text x={348} y={qY1 + 29.5} fontSize={FS}>{TAGS[g]}</text>
          </g>
        );
      })}
    </svg>
  );
}
